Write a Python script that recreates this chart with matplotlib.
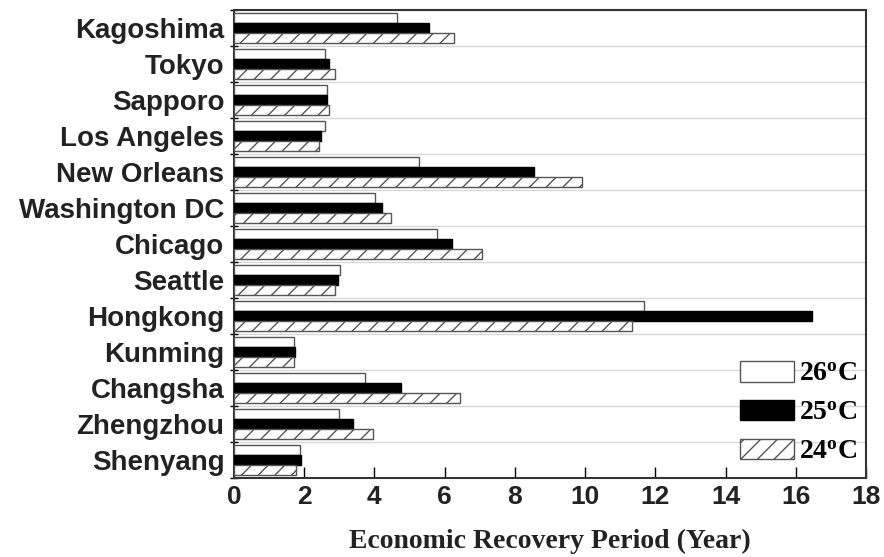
import numpy as np
import matplotlib
matplotlib.use("Agg")
import matplotlib.pyplot as plt
from matplotlib.ticker import FixedLocator

cities = ["Kagoshima", "Tokyo", "Sapporo", "Los Angeles", "New Orleans",
          "Washington DC", "Chicago", "Seattle", "Hongkong", "Kunming",
          "Changsha", "Zhengzhou", "Shenyang"]
t26 = [4.64, 2.58, 2.64, 2.58, 5.28, 4.02, 5.78, 3.02, 11.67, 1.71, 3.72, 2.99, 1.89]
t25 = [5.56, 2.70, 2.66, 2.48, 8.54, 4.21, 6.21, 2.95, 16.46, 1.75, 4.77, 3.40, 1.92]
t24 = [6.26, 2.89, 2.70, 2.42, 9.90, 4.48, 7.05, 2.88, 11.33, 1.71, 6.43, 3.95, 1.78]
series_labels = ["26$\\mathregular{^o}$C", "25$\\mathregular{^o}$C", "24$\\mathregular{^o}$C"]
xticks = [0, 2, 4, 6, 8, 10, 12, 14, 16, 18]

plt.rcParams['hatch.color'] = '#a0a0a0'
plt.rcParams['hatch.linewidth'] = 1.0

fig = plt.figure(figsize=(8.84, 5.57), dpi=100)
ax = fig.add_axes([0.2647, 0.1418, 0.7149, 0.8402])

y = np.arange(len(cities))
h = 0.27
ax.barh(y - h, t26, height=h, color='white', edgecolor='#555555', linewidth=1.0,
        label=series_labels[0], zorder=3)
ax.barh(y, t25, height=h, color='black', edgecolor='black', linewidth=1.0,
        label=series_labels[1], zorder=3)
ax.barh(y + h, t24, height=h, color='white', edgecolor='#555555', linewidth=1.0,
        hatch='//', label=series_labels[2], zorder=3)

ax.set_ylim(len(cities) - 0.5, -0.5)
ax.set_xlim(0, 18)

ax.set_yticks(y)
ax.set_yticklabels(cities, fontfamily='Liberation Sans', fontweight='bold',
                   fontsize=20, color='#222222')
ax.yaxis.set_minor_locator(FixedLocator(np.arange(-0.5, len(cities), 1.0)))
ax.tick_params(axis='y', which='major', length=0, pad=7)
ax.tick_params(axis='y', which='minor', direction='inout', length=6, width=1.0)
ax.grid(which='minor', axis='y', color='#d8d8d8', linewidth=1.0, zorder=0)

ax.set_xticks(xticks)
ax.set_xticklabels([str(v) for v in xticks], fontfamily='Liberation Sans',
                   fontweight='bold', fontsize=19, color='#222222')
ax.tick_params(axis='x', which='major', direction='in', length=8, width=1.0, pad=5)

ax.set_xlabel("Economic Recovery Period (Year)", fontfamily='Liberation Serif',
              fontweight='bold', fontsize=20, labelpad=14, color='#222222')

for s in ax.spines.values():
    s.set_linewidth(1.5)
    s.set_color('#333333')

leg = ax.legend(loc='lower right', bbox_to_anchor=(1.0174, -0.0128), frameon=False,
                prop={'family': 'Liberation Serif', 'weight': 'bold', 'size': 20},
                handlelength=1.95, handleheight=0.75, labelspacing=0.46,
                handletextpad=0.2, borderaxespad=0.3)

fig.savefig("out.png", dpi=100)
